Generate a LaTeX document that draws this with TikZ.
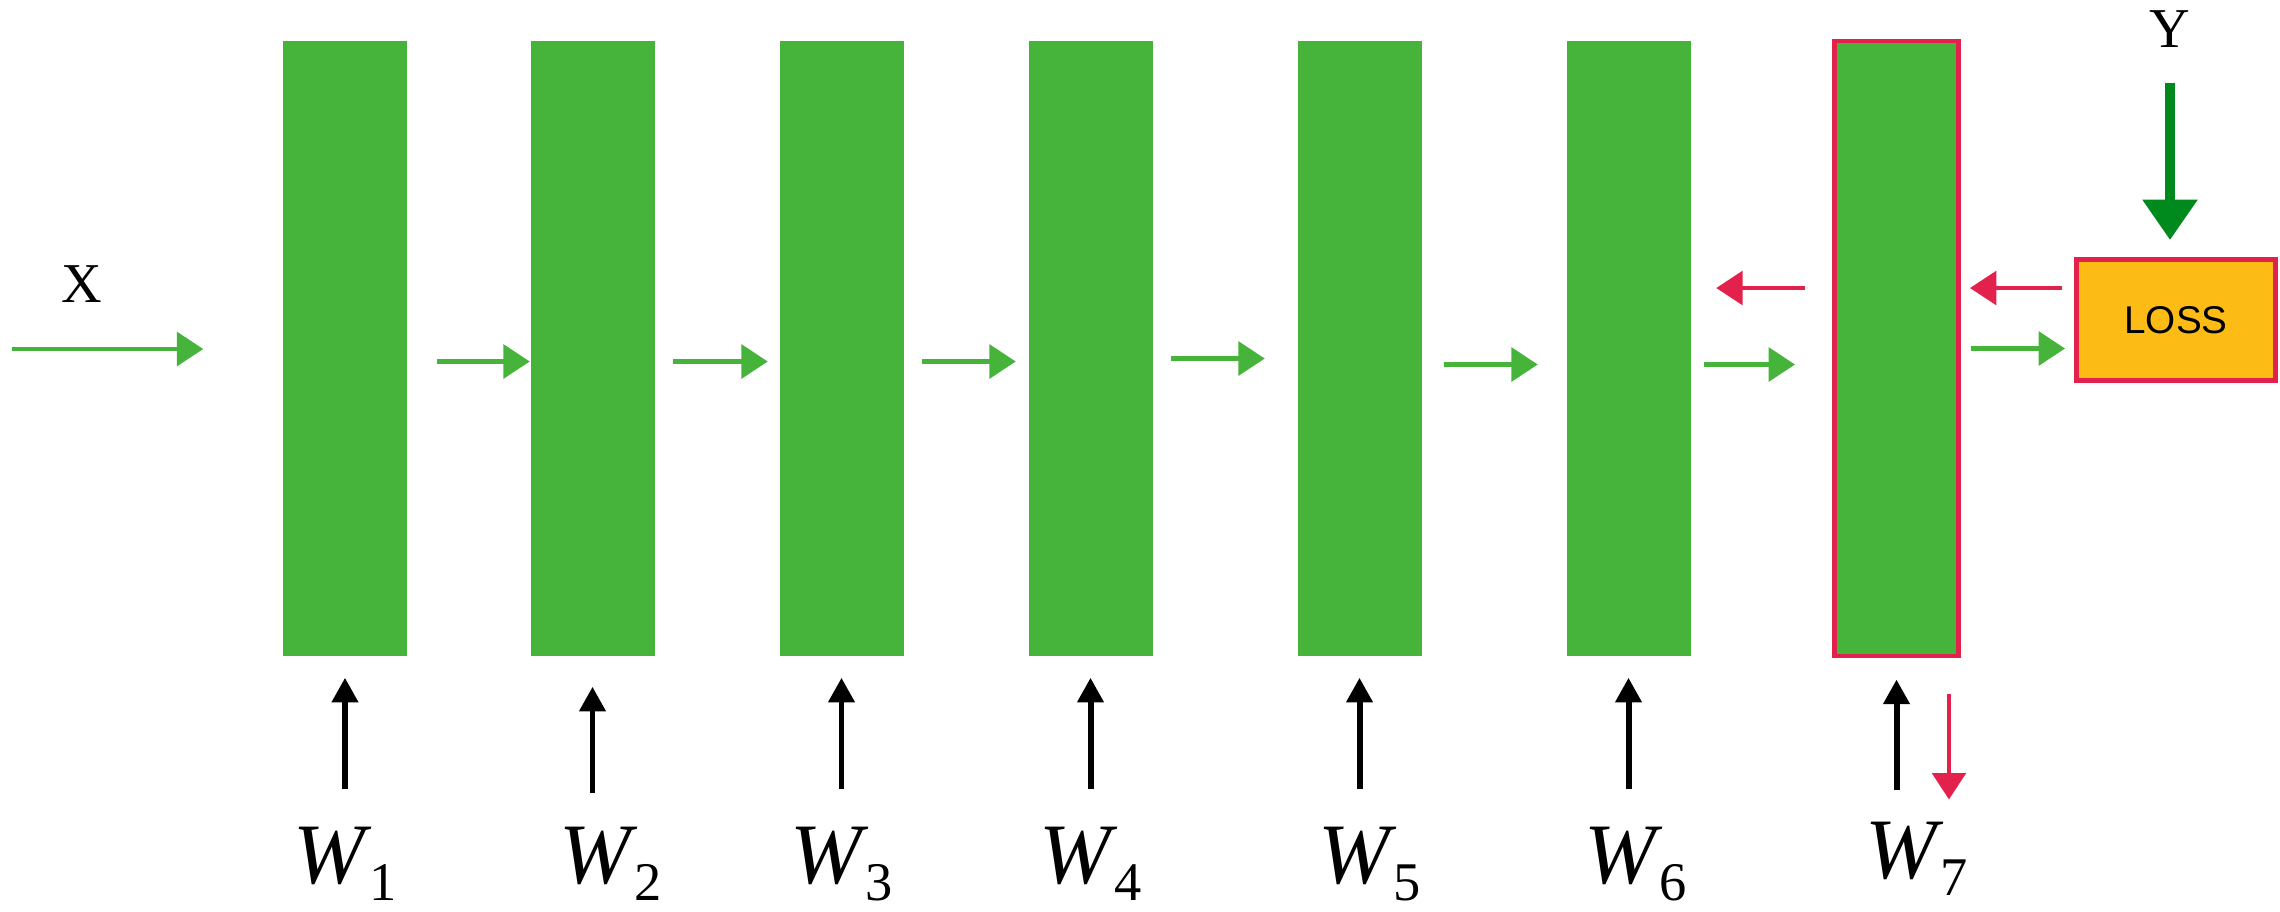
\documentclass[tikz,border=0pt]{standalone}
\usepackage{fontspec}
\setmainfont{Liberation Serif}
\newfontfamily\lossfont{Liberation Sans}
\usepackage{tikz}
\usetikzlibrary{positioning, arrows.meta, calc}

\definecolor{bargreen}{RGB}{70,179,59}
\definecolor{lossred}{RGB}{226,34,76}
\definecolor{lossorange}{RGB}{253,187,22}
\definecolor{ygreen}{RGB}{0,138,30}

\newcommand{\wsub}[1]{\textit{W}\kern-0.03em\raisebox{-0.17cm}{\fontsize{15.5}{16}\selectfont #1}}

\begin{document}
\begin{tikzpicture}[node distance=2.5cm,
	layer/.style={rectangle, fill=bargreen, minimum width=1.24cm, minimum height=6.15cm, inner sep=0pt},
	wlabel/.style={anchor=base, inner sep=0pt, font=\fontsize{24.5}{26}\selectfont},
	garrow/.style={draw=bargreen, line width=1.4pt, -{Triangle[length=7.5pt,width=9.5pt]}},
	rarrow/.style={draw=lossred, line width=1.3pt, -{Triangle[length=7.5pt,width=9.5pt]}},
	warrow/.style={draw=black, line width=1.7pt, -{Triangle[length=7pt,width=7.2pt]}}]
	\useasboundingbox (0,0) rectangle (22.8,-9.11);

	\node [layer] at (3.45,-3.485) (l1) {};
	\node [layer, right of=l1, node distance=2.475cm] (l2) {};
	\node [layer, right of=l2, node distance=2.49cm] (l3) {};
	\node [layer, right of=l3, node distance=2.49cm] (l4) {};
	\node [layer, right of=l4, node distance=2.69cm] (l5) {};
	\node [layer, right of=l5, node distance=2.69cm] (l6) {};
	\node [layer, right of=l6, node distance=2.68cm, draw=lossred, line width=1.4pt] (l7) {};

	\node [draw=lossred, line width=1.4pt, fill=lossorange, minimum width=1.99cm, minimum height=1.21cm, font=\lossfont\fontsize{11}{12}\selectfont] at (21.76,-3.2) (loss) {\raisebox{-0.04cm}{LOSS}};

	\node [anchor=base, inner sep=0pt, font=\fontsize{16}{18}\selectfont] at (0.82,-3.02) (xlab) {X};
	\node [anchor=base, inner sep=0pt, font=\fontsize{16}{18}\selectfont] at (21.70,-0.47) (ylab) {Y};
	\coordinate (xin) at (0.12,-3.49);

	% forward pass
	\draw [garrow, shorten >=0.79cm] (xin) -- (xin -| l1.west);
	\draw [garrow, shorten <=0.29cm] ([yshift=-0.13cm]l1.east) -- ([yshift=-0.13cm]l2.west);
	\draw [garrow, shorten <=0.18cm, shorten >=0.11cm] ([yshift=-0.13cm]l2.east) -- ([yshift=-0.13cm]l3.west);
	\draw [garrow, shorten <=0.18cm, shorten >=0.12cm] ([yshift=-0.13cm]l3.east) -- ([yshift=-0.13cm]l4.west);
	\draw [garrow, shorten <=0.18cm, shorten >=0.32cm] ([yshift=-0.1cm]l4.east) -- ([yshift=-0.1cm]l5.west);
	\draw [garrow, shorten <=0.22cm, shorten >=0.28cm] ([yshift=-0.16cm]l5.east) -- ([yshift=-0.16cm]l6.west);
	\draw [garrow, shorten <=0.13cm, shorten >=0.37cm] ([yshift=-0.16cm]l6.east) -- ([yshift=-0.16cm]l7.west);
	\draw [garrow, shorten <=0.1cm, shorten >=0.09cm] (l7.east) -- (l7.east -| loss.west);

	% target
	\draw [draw=ygreen, line width=2.8pt, -{Triangle[length=11.5pt,width=15pt]}, shorten <=0.35cm, shorten >=0.17cm] (ylab) -- (ylab |- loss.north);

	% backward pass
	\draw [rarrow, shorten <=0.12cm, shorten >=0.09cm] ([yshift=0.32cm]loss.west) -- ([yshift=0.32cm]loss.west -| l7.east);
	\draw [rarrow, shorten <=0.27cm, shorten >=0.25cm] ([yshift=0.605cm]l7.west) -- ([yshift=0.605cm]l6.east);
	\draw [rarrow, line width=1.1pt] ([xshift=-0.12cm,yshift=-0.36cm]l7.south east) -- ++(0,-1.05);

	% weights
	\node [wlabel] at ([yshift=-2.27cm]l1.south) (w1) {\wsub{1}};
	\node [wlabel] at ([xshift=0.18cm,yshift=-2.27cm]l2.south) (w2) {\wsub{2}};
	\node [wlabel] at ([yshift=-2.27cm]l3.south) (w3) {\wsub{3}};
	\node [wlabel] at ([yshift=-2.27cm]l4.south) (w4) {\wsub{4}};
	\node [wlabel] at ([xshift=0.1cm,yshift=-2.27cm]l5.south) (w5) {\wsub{5}};
	\node [wlabel] at ([xshift=0.07cm,yshift=-2.27cm]l6.south) (w6) {\wsub{6}};
	\node [wlabel] at ([xshift=0.2cm,yshift=-2.2cm]l7.south) (w7) {\wsub{7}};

	\draw [warrow, shorten <=0.38cm, shorten >=0.21cm] (w1.north -| l1.south) -- (l1.south);
	\draw [warrow, shorten <=0.34cm, shorten >=0.3cm] (w2.north -| l2.south) -- (l2.south);
	\draw [warrow, shorten <=0.38cm, shorten >=0.21cm] (w3.north -| l3.south) -- (l3.south);
	\draw [warrow, shorten <=0.38cm, shorten >=0.21cm] (w4.north -| l4.south) -- (l4.south);
	\draw [warrow, shorten <=0.38cm, shorten >=0.21cm] (w5.north -| l5.south) -- (l5.south);
	\draw [warrow, shorten <=0.38cm, shorten >=0.21cm] (w6.north -| l6.south) -- (l6.south);
	\draw [warrow, shorten <=0.31cm, shorten >=0.21cm] (w7.north -| l7.south) -- (l7.south);
\end{tikzpicture}
\end{document}
